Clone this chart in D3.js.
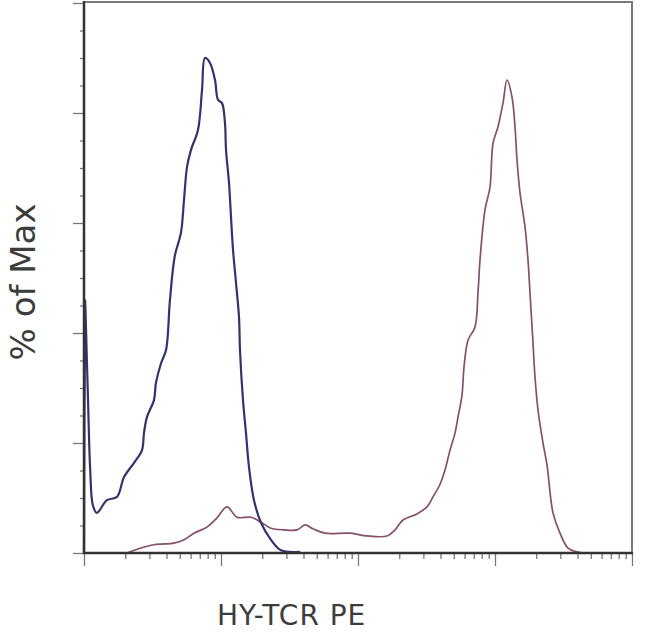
<!DOCTYPE html>
<html>
<head>
<meta charset="utf-8">
<script src="https://cdn.jsdelivr.net/npm/d3@7"></script>
<style>
  html, body { margin: 0; padding: 0; background: #fff; }
  svg { display: block; }
</style>
</head>
<body>
<svg id="chart" width="650" height="633"></svg>
<script>
// ---- data (fluorescence intensity, % of max) ----
const xDomain = [100, 1000000];
const yDomain = [0, 100];
const xLabel = "HY-TCR PE";
const yLabel = "% of Max";
const yMajorTicks = [0, 20, 40, 60, 80, 100];
const yMinorTicks = [5, 10, 15, 25, 30, 35, 45, 50, 55, 65, 70, 75, 85, 90, 95];
const xMajorTicks = [100, 1000, 10000, 100000, 1000000];

const isotypeX = [100, 102, 103, 107, 111, 116, 124, 147, 174, 196, 232, 265, 274, 288, 324, 335, 365, 397, 424, 460, 510, 537, 565, 604, 679, 727, 764, 831, 904, 951, 1017, 1069, 1088, 1144, 1183, 1224, 1287, 1353, 1376, 1447, 1522, 1601, 1741, 1959, 2317, 2742, 3773];
const isotypeY = [0, 46.0, 42.4, 27.8, 15.1, 8.7, 7.3, 9.6, 10.2, 13.8, 16.4, 18.7, 21.8, 24.7, 27.8, 30.9, 34.5, 36.9, 46.0, 54.0, 58.2, 64.2, 70.2, 73.3, 76.9, 84.2, 90.0, 89.1, 86.0, 82.4, 81.8, 78.2, 73.3, 67.3, 61.1, 55.1, 49.1, 42.9, 36.9, 27.8, 21.8, 15.6, 9.6, 5.5, 2.4, 0.5, 0.2];

const stainedX = [206, 232, 324, 454, 537, 635, 790, 935, 1106, 1309, 1656, 1959, 2317, 2883, 3587, 4104, 4694, 5743, 8743, 11632, 16283, 18625, 21305, 26958, 31888, 35273, 39677, 43152, 46942, 51050, 53703, 57431, 59500, 63532, 71450, 75144, 77716, 84528, 91933, 96690, 105170, 114400, 122370, 133100, 139960, 144750, 152230, 165580, 174110, 180070, 189380, 195880, 206020, 224080, 239660, 265120, 298300, 341100, 396800, 453900];
const stainedY = [0, 0.5, 1.5, 1.8, 2.4, 3.6, 4.7, 6.4, 8.4, 6.5, 6.5, 5.6, 4.5, 4.2, 4.2, 5.1, 4.4, 3.6, 3.6, 3.1, 3.1, 4.2, 6.0, 7.1, 8.4, 10.2, 12.5, 15.1, 18.7, 21.8, 24.7, 28.7, 34.0, 38.7, 41.1, 47.3, 53.3, 62.4, 66.5, 74.5, 77.5, 81.8, 86.0, 82.9, 77.5, 71.5, 65.5, 59.3, 53.3, 47.3, 38.2, 32.0, 26.0, 20.0, 16.0, 7.3, 3.6, 0.9, 0.2, 0];

// ---- layout ----
const svg = d3.select("#chart");
const pLeft = 84, pRight = 632, pTop = 3, pBottom = 553;

const x = d3.scaleLog().domain(xDomain).range([pLeft, pRight]);
const y = d3.scaleLinear().domain(yDomain).range([pBottom, pTop]);

// minor x ticks (log 2..9 per decade)
const xMinorTicks = [];
for (let d = 100; d < 1000000; d *= 10) {
  for (let k = 2; k <= 9; k++) xMinorTicks.push(d * k);
}

// frame (top/right)
svg.append("rect")
  .attr("x", pLeft).attr("y", pTop - 1)
  .attr("width", pRight - pLeft).attr("height", pBottom - pTop + 1)
  .attr("fill", "none").attr("stroke", "#7a7a7a").attr("stroke-width", 2);

// y axis
const yMajor = d3.axisLeft(y).tickValues(yMajorTicks).tickSize(11).tickFormat("");
const yMinor = d3.axisLeft(y).tickValues(yMinorTicks).tickSize(4).tickFormat("");
const gyMinor = svg.append("g").attr("transform", `translate(${pLeft},0)`).call(yMinor);
const gy = svg.append("g").attr("transform", `translate(${pLeft},0)`).call(yMajor);

// x axis
const xMajor = d3.axisBottom(x).tickValues(xMajorTicks).tickSize(13).tickFormat("");
const xMinor = d3.axisBottom(x).tickValues(xMinorTicks).tickSize(6).tickFormat("");
const gxMinor = svg.append("g").attr("transform", `translate(0,${pBottom})`).call(xMinor);
const gx = svg.append("g").attr("transform", `translate(0,${pBottom})`).call(xMajor);

[gy, gyMinor, gx, gxMinor].forEach(g => {
  g.selectAll(".domain").remove();
  g.selectAll(".tick line").attr("stroke", "#777").attr("stroke-width", 1.3);
});

// curves
const line = d3.line().x(d => x(d[0])).y(d => y(d[1])).curve(d3.curveCatmullRom.alpha(0.5));

const stained = stainedX.map((v, i) => [v, stainedY[i]]);
const isotype = isotypeX.map((v, i) => [v, isotypeY[i]]);

svg.append("path").datum(stained)
  .attr("d", line)
  .attr("fill", "none").attr("stroke", "#86506a").attr("stroke-width", 1.7)
  .attr("stroke-linejoin", "round");

svg.append("path").datum(isotype)
  .attr("d", line)
  .attr("fill", "none").attr("stroke", "#33336f").attr("stroke-width", 2.2)
  .attr("stroke-linejoin", "round");

// axis lines (left and bottom)
svg.append("line").attr("x1", pLeft).attr("x2", pLeft).attr("y1", pTop - 2).attr("y2", pBottom + 1)
  .attr("stroke", "#333").attr("stroke-width", 2.5);
svg.append("line").attr("x1", pLeft - 1).attr("x2", pRight + 1).attr("y1", pBottom).attr("y2", pBottom)
  .attr("stroke", "#333").attr("stroke-width", 2.5);

// labels
svg.append("text")
  .attr("x", 217).attr("y", 625)
  .attr("font-family", "DejaVu Sans, Verdana, sans-serif")
  .attr("font-size", 28)
  .attr("letter-spacing", 1)
  .attr("fill", "#3c3c3c")
  .text(xLabel);

svg.append("text")
  .attr("transform", `translate(35,282) rotate(-90)`)
  .attr("text-anchor", "middle")
  .attr("font-family", "DejaVu Sans, Verdana, sans-serif")
  .attr("font-size", 34)
  .attr("fill", "#3c3c3c")
  .text(yLabel);
</script>
</body>
</html>
